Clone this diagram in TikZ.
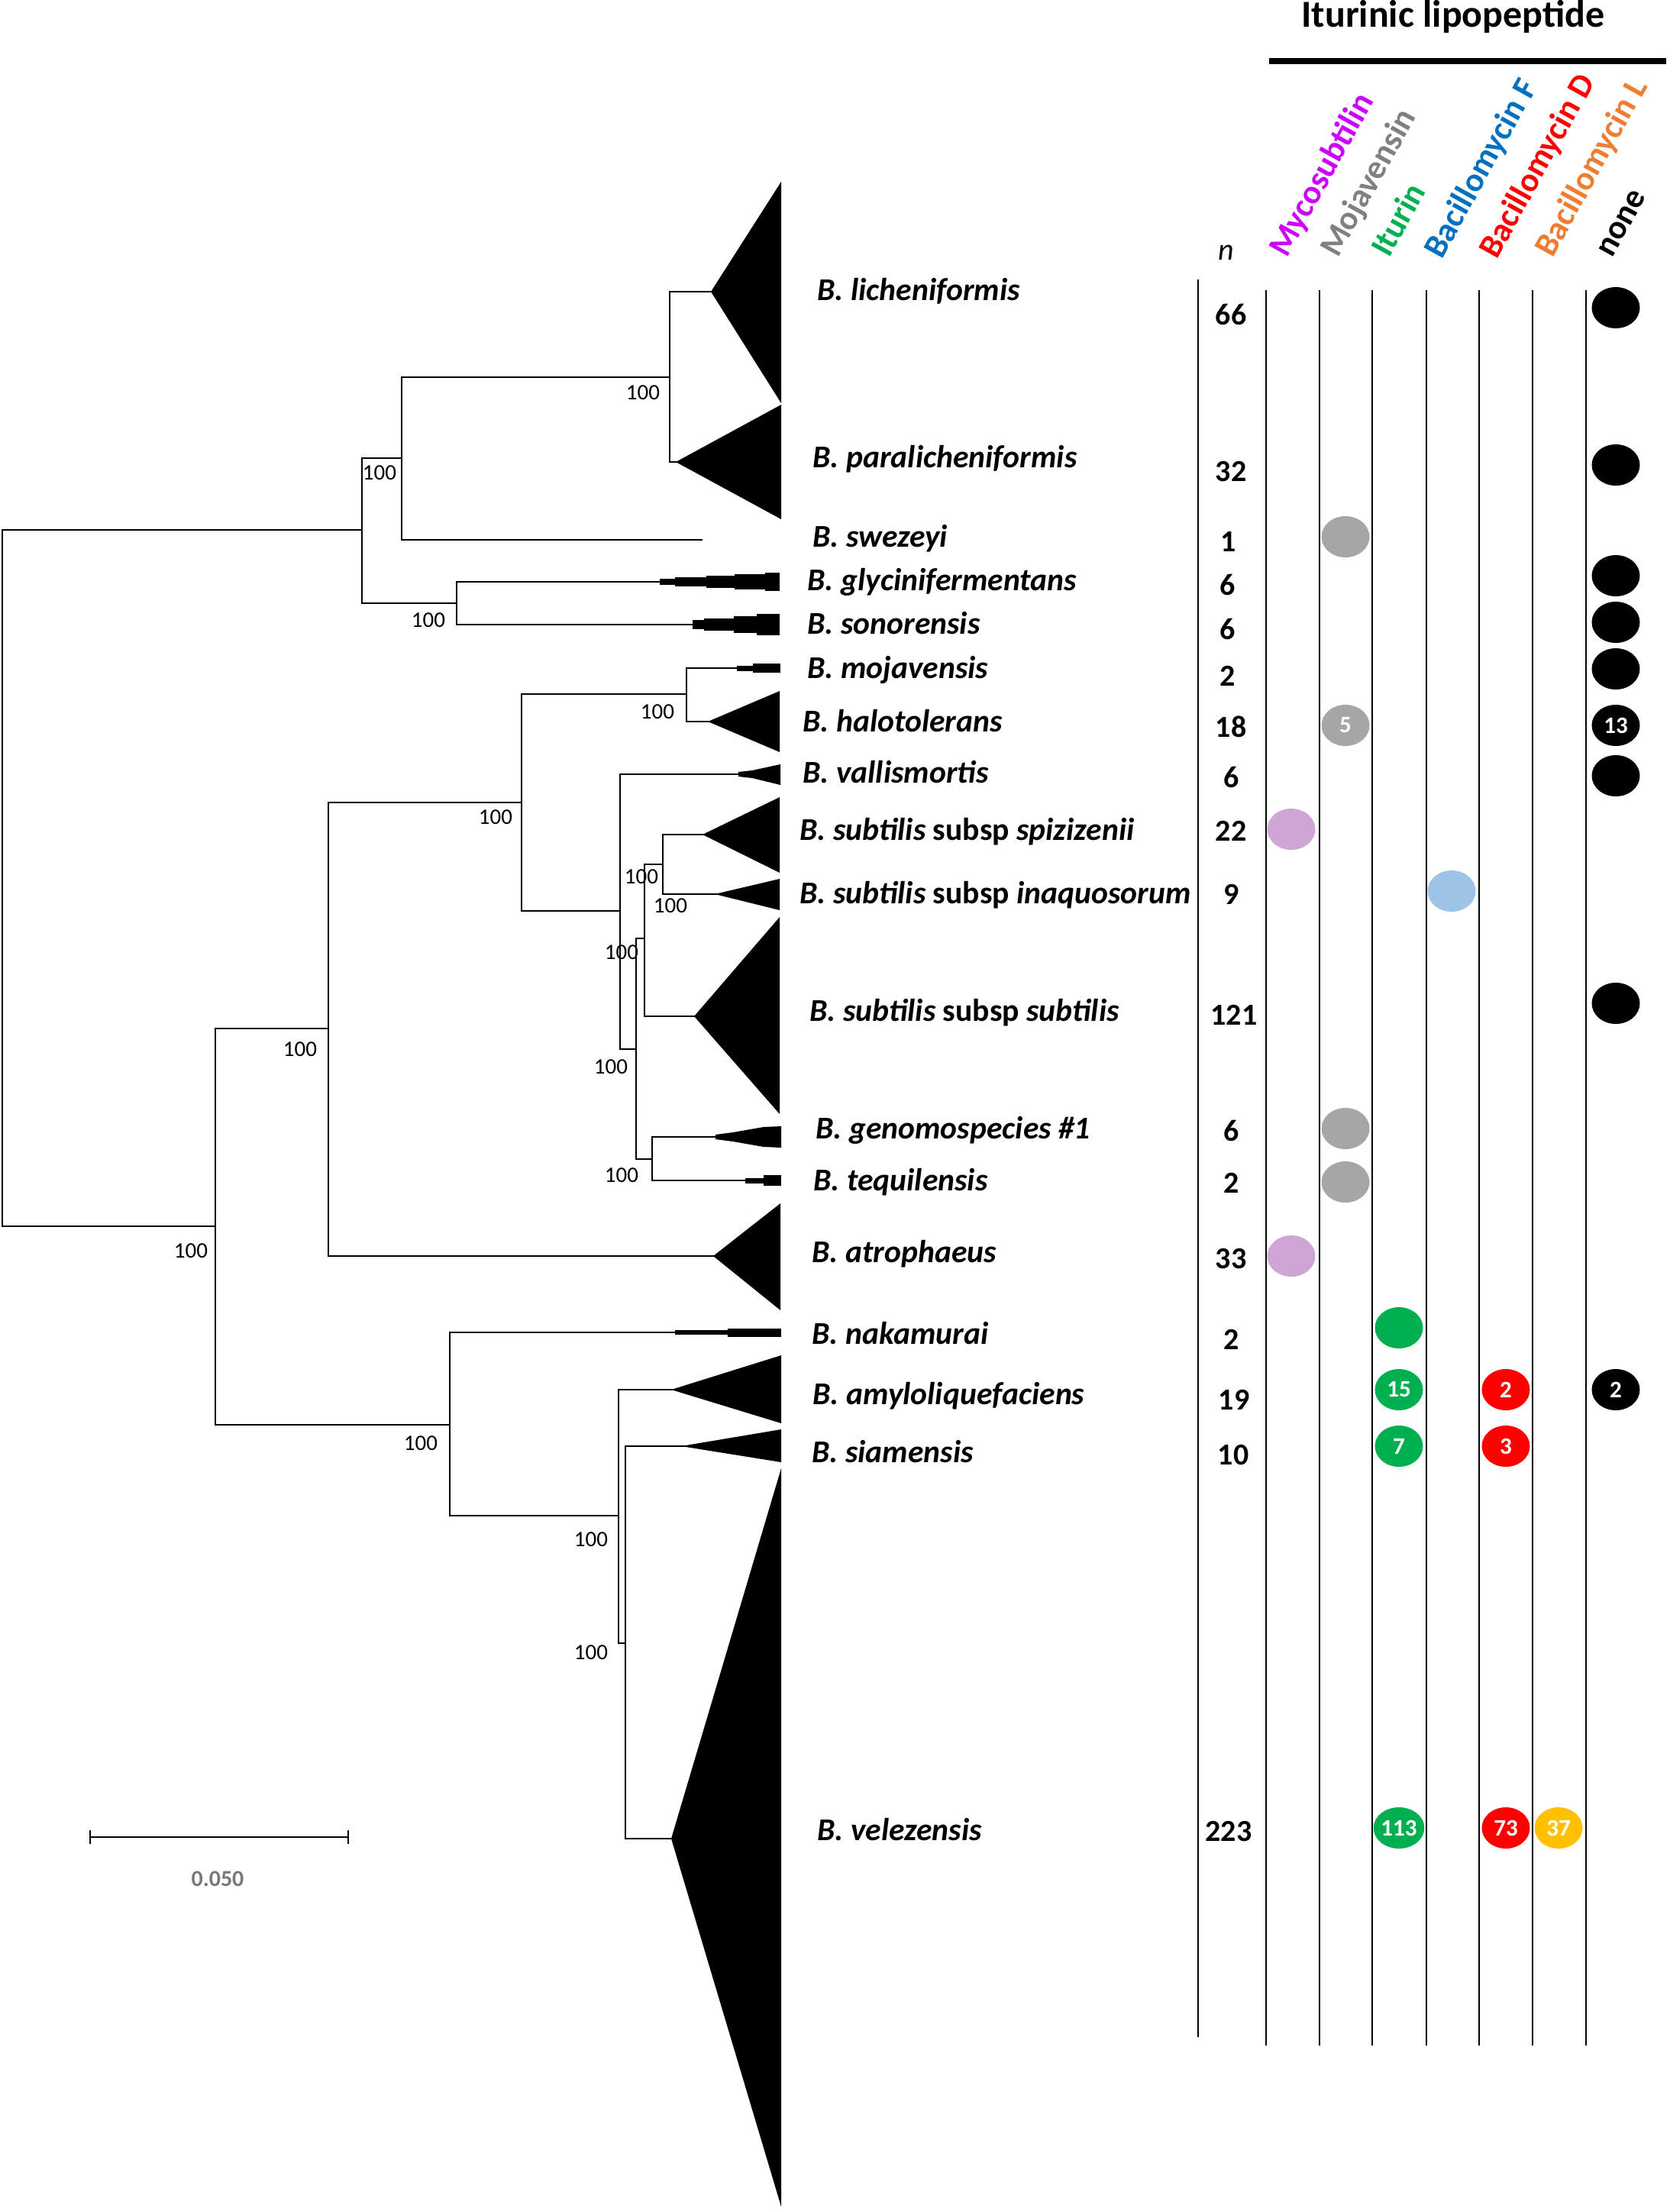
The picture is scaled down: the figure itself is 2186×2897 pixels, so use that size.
\documentclass[tikz,border=0pt]{standalone}
\usepackage{fontspec}
\setmainfont{Carlito}
\usetikzlibrary{shapes.geometric}
\definecolor{cMyco}{RGB}{204,0,255}
\definecolor{cMoja}{RGB}{128,128,128}
\definecolor{cItu}{RGB}{0,176,80}
\definecolor{cBacF}{RGB}{0,112,192}
\definecolor{cBacD}{RGB}{255,0,0}
\definecolor{cBacL}{RGB}{237,125,49}
\definecolor{dMyco}{RGB}{206,166,214}
\definecolor{dMoja}{RGB}{166,166,166}
\definecolor{dBacF}{RGB}{157,195,230}
\definecolor{dBacL}{RGB}{255,192,0}
\definecolor{sbgray}{RGB}{120,120,120}
\tikzset{
  br/.style={line width=1.25pt, line join=miter, line cap=rect},
  sp/.style={anchor=base west, inner sep=0pt, font=\fontsize{20.8}{24}\selectfont\bfseries\itshape},
  num/.style={anchor=base, inner sep=0pt, font=\fontsize{20}{24}\selectfont\bfseries},
  bs/.style={inner sep=0pt, font=\fontsize{14.5}{16}\selectfont},
  col/.style={line width=1.4pt},
  dot/.style={ellipse, draw=none, minimum width=31.5pt, minimum height=27pt, inner sep=0pt, text=white, font=\fontsize{15.5}{16}\selectfont\bfseries},
  hdr/.style={anchor=base west, rotate=61, inner sep=0pt, font=\fontsize{22}{24}\selectfont\bfseries},
  tipx/.style={xshift=-3pt},
}
\begin{document}
\begin{tikzpicture}[x=0.5pt,y=-0.5pt]
\useasboundingbox (0,0) rectangle (2186,2897);

% ---------- internal nodes of the tree ----------
\coordinate (R) at (3,694);
\coordinate (A) at (474,694);
\coordinate (C) at (526,600);
\coordinate (D) at (877,494);
\coordinate (B) at (598,790);
\coordinate (E) at (282,1606);
\coordinate (F) at (430,1347);
\coordinate (G) at (683,1051);
\coordinate (H) at (899,909);
\coordinate (I) at (812,1193);
\coordinate (K) at (833,1374);
\coordinate (L) at (844,1229);
\coordinate (M) at (868,1132);
\coordinate (N) at (854,1518);
\coordinate (O) at (589,1866);
\coordinate (P) at (810,1985);
\coordinate (Q) at (819,2152);
% ---------- tips ----------
\coordinate (lich) at (937,382);
\coordinate (paral) at (891,605);
\coordinate (swez) at (919,707);
\coordinate (glyc) at (864,762);
\coordinate (sono) at (907,818);
\coordinate (mojv) at (965,875);
\coordinate (halo) at (933,945);
\coordinate (vall) at (967,1014);
\coordinate (spiz) at (926,1093);
\coordinate (inaq) at (942,1171);
\coordinate (subt) at (915,1331);
\coordinate (geno) at (937,1489);
\coordinate (tequ) at (976,1546);
\coordinate (atro) at (940,1645);
\coordinate (naka) at (884,1745);
\coordinate (amyl) at (885,1820);
\coordinate (siam) at (898,1894);
\coordinate (vele) at (885,2408);

% ---------- collapsed clades ----------
\fill ([tipx]lich) -- (1023,238) -- (1023,528) -- cycle;
\fill ([tipx]paral) -- (1023,530) -- (1023,680) -- cycle;
\fill (864,758) rectangle (884,766);
\fill (884,756) rectangle (925,768);
\fill (925,754) rectangle (962,770);
\fill (962,752) rectangle (1002,772);
\fill (1002,750) rectangle (1021,774);
\fill (907,812) rectangle (922,824);
\fill (922,810) rectangle (961,826);
\fill (961,807) rectangle (991,829);
\fill (991,804) rectangle (1021,832);
\fill (965,871.5) rectangle (986,878.5);
\fill (986,869) rectangle (1022,881);
\fill ([tipx]halo) -- (1021,905) -- (1021,985) -- cycle;
\fill (967,1011) -- (985,1009) -- (1022,1001) -- (1022,1028) -- (985,1019) -- (967,1017) -- cycle;
\fill ([tipx]spiz) -- (1021,1044) -- (1021,1143) -- cycle;
\fill ([tipx]inaq) -- (1021,1151) -- (1021,1192) -- cycle;
\fill ([tipx]subt) -- (1021,1201) -- (1021,1459) -- cycle;
\fill (937,1486) -- (960,1483) -- (1000,1476) -- (1023,1475) -- (1023,1503) -- (1000,1502) -- (960,1495) -- (937,1492) -- cycle;
\fill (976,1542.5) rectangle (1000,1549.5);
\fill (1000,1539) rectangle (1023,1553);
\fill ([tipx]atro) -- (1022,1576) -- (1022,1716) -- cycle;
\fill (884,1742) rectangle (953,1748);
\fill (953,1739.5) rectangle (1023,1750.5);
\fill ([tipx]amyl) -- (1023,1775) -- (1023,1864) -- cycle;
\fill ([tipx]siam) -- (1023,1872) -- (1023,1915) -- cycle;
\fill ([tipx]vele) -- (1023,1923) -- (1023,2890) -- cycle;

% ---------- branches ----------
\draw[br] (R) |- (A);  \draw[br] (R) |- (E);
\draw[br] (A) |- (C);  \draw[br] (A) |- (B);
\draw[br] (C) |- (D);  \draw[br] (C) |- (swez);
\draw[br] (D) |- (lich); \draw[br] (D) |- (paral);
\draw[br] (B) |- (glyc); \draw[br] (B) |- (sono);
\draw[br] (E) |- (F);  \draw[br] (E) |- (O);
\draw[br] (F) |- (G);  \draw[br] (F) |- (atro);
\draw[br] (G) |- (H);  \draw[br] (G) |- (I);
\draw[br] (H) |- (mojv); \draw[br] (H) |- (halo);
\draw[br] (I) |- (vall); \draw[br] (I) |- (K);
\draw[br] (K) |- (L);  \draw[br] (K) |- (N);
\draw[br] (L) |- (M);  \draw[br] (L) |- (subt);
\draw[br] (M) |- (spiz); \draw[br] (M) |- (inaq);
\draw[br] (N) |- (geno); \draw[br] (N) |- (tequ);
\draw[br] (O) |- (naka); \draw[br] (O) |- (P);
\draw[br] (P) |- (amyl); \draw[br] (P) |- (Q);
\draw[br] (Q) |- (siam); \draw[br] (Q) |- (vele);

% ---------- bootstrap values ----------
\node[bs] (bC) at (497,619) {100};
\node[bs] (bD) at (842,514) {100};
\node[bs] (bB) at (561,812) {100};
\node[bs] (bH) at (861,932) {100};
\node[bs] (bG) at (649,1070) {100};
\node[bs] (bM) at (840,1148) {100};
\node[bs] (bI) at (878,1186) {100};
\node[bs] (bL) at (814,1247) {100};
\node[bs] (bK) at (800,1397) {100};
\node[bs] (bN) at (814,1539) {100};
\node[bs] (bF) at (393,1374) {100};
\node[bs] (bE) at (250,1638) {100};
\node[bs] (bO) at (551,1890) {100};
\node[bs] (bP) at (774,2016) {100};
\node[bs] (bQ) at (774,2164) {100};

% ---------- scale bar ----------
\coordinate (sb1) at (118,2406);
\coordinate (sb2) at (456,2406);
\draw[br, line cap=butt] (sb1) -- (sb2);
\draw[br, line cap=butt] (sb1) ++(0,-9) -- ++(0,18);
\draw[br, line cap=butt] (sb2) ++(0,-9) -- ++(0,18);
\node[inner sep=0pt, text=sbgray, font=\fontsize{15}{16}\selectfont\bfseries] (sbl) at (285,2461) {0.050};

% ---------- species labels ----------
\node[sp] (Llich) at (1070,393) {B. licheniformis};
\node[sp] (Lparal) at (1064,612) {B. paralicheniformis};
\node[sp] (Lswez) at (1064,716) {B. swezeyi};
\node[sp] (Lglyc) at (1057,773) {B. glycinifermentans};
\node[sp] (Lsono) at (1057,830) {B. sonorensis};
\node[sp] (Lmojv) at (1057,888) {B. mojavensis};
\node[sp] (Lhalo) at (1051,958) {B. halotolerans};
\node[sp] (Lvall) at (1051,1025) {B. vallismortis};
\node[sp] (Lspiz) at (1047,1100) {B. subtilis \upshape subsp \itshape spizizenii};
\node[sp] (Linaq) at (1047,1183) {B. subtilis \upshape subsp \itshape inaquosorum};
\node[sp] (Lsubt) at (1060,1337) {B. subtilis \upshape subsp \itshape subtilis};
\node[sp] (Lgeno) at (1068,1491) {B. genomospecies \#1};
\node[sp] (Ltequ) at (1065,1559) {B. tequilensis};
\node[sp] (Latro) at (1063,1653) {B. atrophaeus};
\node[sp] (Lnaka) at (1063,1760) {B. nakamurai};
\node[sp] (Lamyl) at (1064,1839) {B. amyloliquefaciens};
\node[sp] (Lsiam) at (1063,1915) {B. siamensis};
\node[sp] (Lvele) at (1070,2410) {B. velezensis};

% ---------- n column ----------
\node[anchor=base, inner sep=0pt, font=\fontsize{20}{24}\selectfont\itshape] (nhdr) at (1606,340) {n};
\node[num] (n1) at (1612,425) {66};
\node[num] (n2) at (1612,630) {32};
\node[num] (n3) at (1609,722) {1};
\node[num] (n4) at (1608,779) {6};
\node[num] (n5) at (1608,837) {6};
\node[num] (n6) at (1608,898) {2};
\node[num] (n7) at (1612,965) {18};
\node[num] (n8) at (1613,1031) {6};
\node[num] (n9) at (1612,1101) {22};
\node[num] (n10) at (1613,1184) {9};
\node[num] (n11) at (1616,1342) {121};
\node[num] (n12) at (1613,1494) {6};
\node[num] (n13) at (1613,1562) {2};
\node[num] (n14) at (1612,1661) {33};
\node[num] (n15) at (1613,1767) {2};
\node[num] (n16) at (1616,1846) {19};
\node[num] (n17) at (1615,1918) {10};
\node[num] (n18) at (1609,2411) {223};

% ---------- table lines ----------
\draw[col] (1569,366) -- (1569,2668);
\foreach \xx in {1658,1728,1797,1868,1937,2007,2077}
  \draw[col] (\xx,380) -- (\xx,2679);

% ---------- title and headers ----------
\node[anchor=base, inner sep=0pt, font=\fontsize{25}{27}\selectfont\bfseries] (title) at (1903,35) {Iturinic lipopeptide};
\draw[line width=4pt] (1662,80) -- (2182,80);
\node[hdr, text=cMyco] (h1) at (1685,339) {Mycosubtilin};
\node[hdr, text=cMoja] (h2) at (1752,339) {Mojavensin};
\node[hdr, text=cItu]  (h3) at (1819,339) {Iturin};
\node[hdr, text=cBacF] (h4) at (1888,341) {Bacillomycin F};
\node[hdr, text=cBacD] (h5) at (1960,341) {Bacillomycin D};
\node[hdr, text=cBacL] (h6) at (2033,339) {Bacillomycin L};
\node[hdr, text=black] (h7) at (2111,339) {none};

% ---------- presence dots ----------
\node[dot, fill=black] (d1) at (2116,403) {};
\node[dot, fill=black] (d2) at (2116,609) {};
\node[dot, fill=dMoja] (d3) at (1762,703) {};
\node[dot, fill=black] (d4) at (2116,754) {};
\node[dot, fill=black] (d5) at (2116,815) {};
\node[dot, fill=black] (d6) at (2116,876) {};
\node[dot, fill=dMoja] (d7) at (1762,950) {5};
\node[dot, fill=black] (d8) at (2116,950) {13};
\node[dot, fill=black] (d9) at (2116,1016) {};
\node[dot, fill=dMyco] (d10) at (1691,1086) {};
\node[dot, fill=dBacF] (d11) at (1901,1167) {};
\node[dot, fill=black] (d12) at (2116,1314) {};
\node[dot, fill=dMoja] (d13) at (1762,1478) {};
\node[dot, fill=dMoja] (d14) at (1762,1548) {};
\node[dot, fill=dMyco] (d15) at (1691,1645) {};
\node[dot, fill=cItu] (d16) at (1832,1739) {};
\node[dot, fill=cItu] (d17) at (1832,1820) {15};
\node[dot, fill=cBacD] (d18) at (1972,1820) {2};
\node[dot, fill=black] (d19) at (2116,1820) {2};
\node[dot, fill=cItu] (d20) at (1832,1894) {7};
\node[dot, fill=cBacD] (d21) at (1972,1894) {3};
\node[dot, fill=cItu] (d22) at (1832,2394) {113};
\node[dot, fill=cBacD] (d23) at (1972,2394) {73};
\node[dot, fill=dBacL] (d24) at (2041,2394) {37};
\end{tikzpicture}
\end{document}
